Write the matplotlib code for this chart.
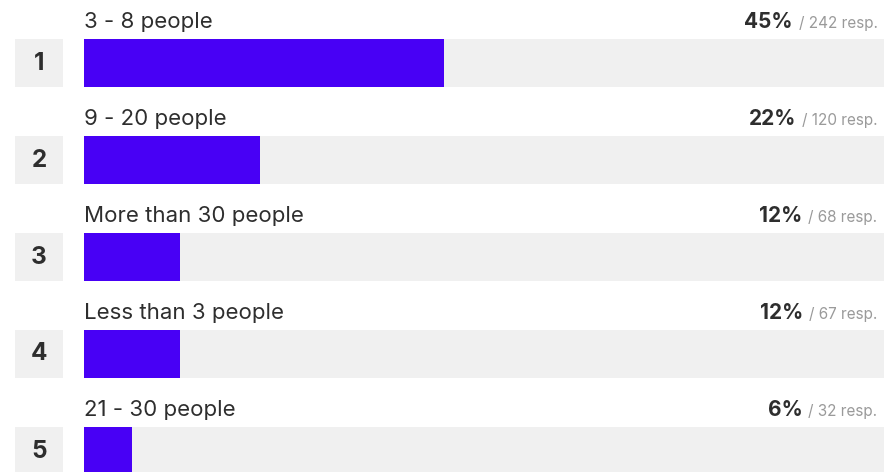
import matplotlib.pyplot as plt

plt.rcParams['font.family'] = ['Inter', 'DejaVu Sans']

labels = ["3 - 8 people", "9 - 20 people", "More than 30 people",
          "Less than 3 people", "21 - 30 people"]
percents = [45, 22, 12, 12, 6]
responses = [242, 120, 68, 67, 32]
ranks = [1, 2, 3, 4, 5]

BAR_COLOR = "#4800f5"
TRACK_COLOR = "#f0f0f0"
TEXT_COLOR = "#2e2e2e"
GREY = "#9a9a9a"

W, H = 886, 472
PITCH = 97.0
TOP = 63.0  # center of first bar in px
y_lim = ((H - TOP) / PITCH, -TOP / PITCH)
bar_h = 48 / PITCH

fig = plt.figure(figsize=(W / 100, H / 100), dpi=100)

# rank boxes
ax_r = fig.add_axes([15 / W, 0, 48 / W, 1])
ax_r.barh(range(len(ranks)), [1] * len(ranks), height=bar_h, color=TRACK_COLOR)
for i, r in enumerate(ranks):
    ax_r.text(0.5, i, str(r), ha='center', va='center', fontsize=17.5,
              fontweight='bold', color=TEXT_COLOR)
ax_r.set_xlim(0, 1)
ax_r.set_ylim(*y_lim)
ax_r.axis('off')

# bars
ax = fig.add_axes([84 / W, 0, 800 / W, 1])
ypos = list(range(len(labels)))
ax.barh(ypos, [100] * len(labels), height=bar_h, color=TRACK_COLOR)
ax.barh(ypos, percents, height=bar_h, color=BAR_COLOR)
ax.set_xlim(0, 100)
ax.set_ylim(*y_lim)
ax.axis('off')

base_off = 35 / PITCH
greys = []
for i, (lab, n) in enumerate(zip(labels, responses)):
    ax.text(0, i - base_off, lab, ha='left', va='baseline', fontsize=16,
            color=TEXT_COLOR)
    g = ax.text(99.2, i - base_off, f"/ {n} resp.", ha='right', va='baseline',
                fontsize=11, color=GREY)
    greys.append(g)

fig.canvas.draw()
inv = ax.transData.inverted()
for i, (g, p) in enumerate(zip(greys, percents)):
    bb = g.get_window_extent()
    x0 = inv.transform((bb.x0 - 6, bb.y0))[0]
    ax.text(x0, i - base_off, f"{p}%", ha='right', va='baseline', fontsize=15,
            fontweight='bold', color=TEXT_COLOR)

fig.savefig("out.png", dpi=100)
